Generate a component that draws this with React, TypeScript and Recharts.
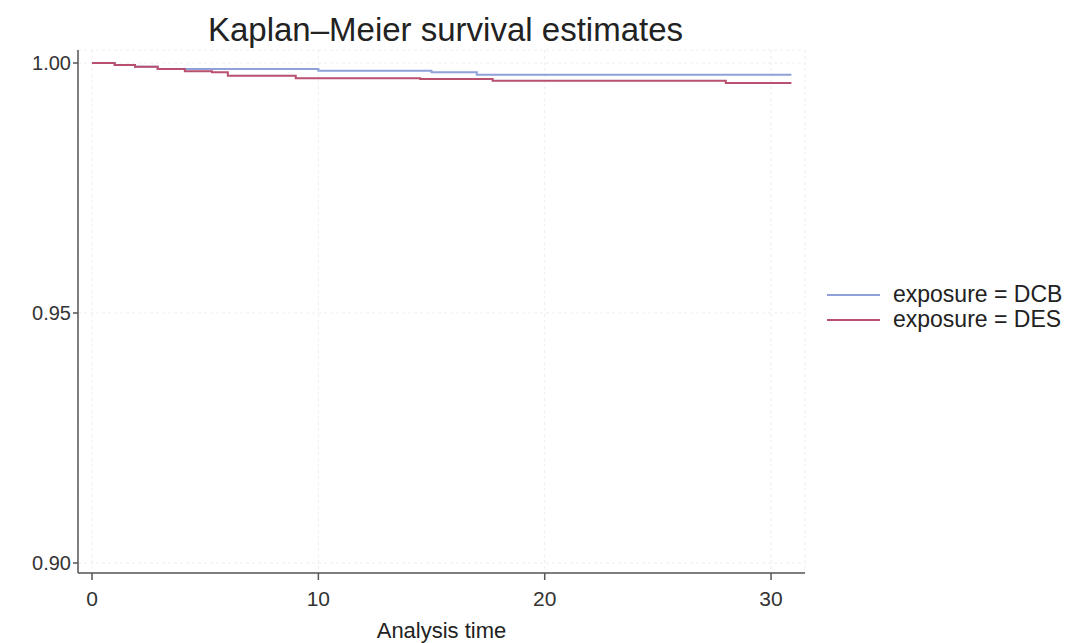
import { LineChart, Line, XAxis, YAxis, CartesianGrid } from "recharts";

// Kaplan-Meier step values
const dcbTimes = [0, 1.0, 1.9, 2.9, 4.5, 10.0, 15.0, 17.0, 30.9];
const dcbSurvival = [1.0, 0.9996, 0.99926, 0.99882, 0.9988, 0.99846, 0.99814, 0.99766, 0.99766];

const desTimes = [0, 1.0, 1.9, 2.9, 4.1, 5.3, 6.0, 9.0, 14.5, 17.7, 28.0, 30.9];
const desSurvival = [1.0, 0.9996, 0.99926, 0.99882, 0.99834, 0.99814, 0.99746, 0.99694, 0.9968, 0.99646, 0.996, 0.996];

const xTicks = [0, 10, 20, 30];
const yTicks = [0.9, 0.95, 1.0];

const dcbData = dcbTimes.map((t, i) => ({ time: t, surv: dcbSurvival[i] }));
const desData = desTimes.map((t, i) => ({ time: t, surv: desSurvival[i] }));

const series = [
  { name: "exposure = DCB", data: dcbData, color: "#8fa1d8" },
  { name: "exposure = DES", data: desData, color: "#b9506f" },
];

const font = "'Liberation Sans', Arial, sans-serif";

function KmLegend() {
  return (
    <div style={{ position: "absolute", left: 827, top: 282, fontFamily: font, fontSize: 23, color: "#222" }}>
      {series.map((s) => (
        <div key={s.name} style={{ display: "flex", alignItems: "center", height: 25 }}>
          <div style={{ width: 53, height: 2, background: s.color, marginRight: 13 }} />
          {s.name}
        </div>
      ))}
    </div>
  );
}

export default function App() {
  return (
    <div style={{ position: "absolute", left: 0, top: 0, width: 1079, height: 643, background: "#fff" }}>
      <div
        style={{
          position: "absolute",
          left: 82,
          width: 727,
          top: 10,
          textAlign: "center",
          fontFamily: font,
          fontSize: 33,
          lineHeight: "40px",
          color: "#222",
        }}
      >
        Kaplan–Meier survival estimates
      </div>
      <LineChart width={1079} height={643} margin={{ top: 50, right: 274, bottom: 0, left: 0 }}>
        <CartesianGrid strokeDasharray="3 3" stroke="#eeeeee" />
        <XAxis
          type="number"
          dataKey="time"
          domain={[-0.62, 31.5]}
          ticks={xTicks}
          height={70}
          allowDataOverflow
          stroke="#555"
          strokeWidth={1.5}
          tickSize={7}
          tickMargin={11}
          tick={{ fill: "#333", fontSize: 21, fontFamily: font }}
          label={{ value: "Analysis time", position: "insideBottom", offset: 5, fill: "#222", fontSize: 22, fontFamily: font }}
        />
        <YAxis
          type="number"
          dataKey="surv"
          domain={[0.898, 1.0026]}
          ticks={yTicks}
          width={78}
          allowDataOverflow
          stroke="#555"
          strokeWidth={1.5}
          tickSize={5}
          tickFormatter={(v: number) => v.toFixed(2)}
          tick={{ fill: "#333", fontSize: 20, fontFamily: font }}
        />
        {series.map((s) => (
          <Line
            key={s.name}
            data={s.data}
            dataKey="surv"
            name={s.name}
            type="stepAfter"
            stroke={s.color}
            strokeWidth={2}
            dot={false}
            isAnimationActive={false}
          />
        ))}
      </LineChart>
      <KmLegend />
    </div>
  );
}
